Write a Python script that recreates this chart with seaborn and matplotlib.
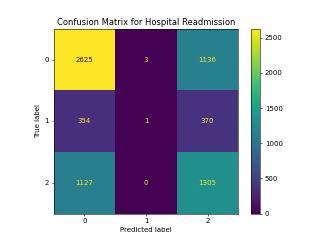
import matplotlib
matplotlib.use("Agg")
import matplotlib.pyplot as plt
import seaborn as sns
import numpy as np

labels = ["0", "1", "2"]
row0 = [2625, 3, 1136]
row1 = [354, 1, 370]
row2 = [1127, 0, 1305]
cm = np.array([row0, row1, row2])

fig, ax = plt.subplots(figsize=(6.4, 4.8), dpi=50)
cmap = plt.get_cmap("viridis")
sns.heatmap(cm, ax=ax, cmap="viridis", annot=True, fmt="d", square=True,
            xticklabels=labels, yticklabels=labels, cbar=True,
            annot_kws={"fontsize": 10})

thresh = (cm.max() + cm.min()) / 2.0
for t in ax.texts:
    v = int(t.get_text())
    t.set_color(cmap(0.0) if v >= thresh else cmap(1.0))

for s in ax.spines.values():
    s.set_visible(True)
    s.set_linewidth(0.8)
ax.tick_params(axis="both", length=3.5, width=0.8)
plt.setp(ax.get_yticklabels(), rotation=0)
plt.setp(ax.get_xticklabels(), rotation=0)
ax.set_xlabel("Predicted label")
ax.set_ylabel("True label")
ax.set_title("Confusion Matrix for Hospital Readmission")

cb = ax.collections[0].colorbar
cb.outline.set_linewidth(0.8)
cb.set_ticks([0, 500, 1000, 1500, 2000, 2500])

fig.savefig("out.png", dpi=50)
